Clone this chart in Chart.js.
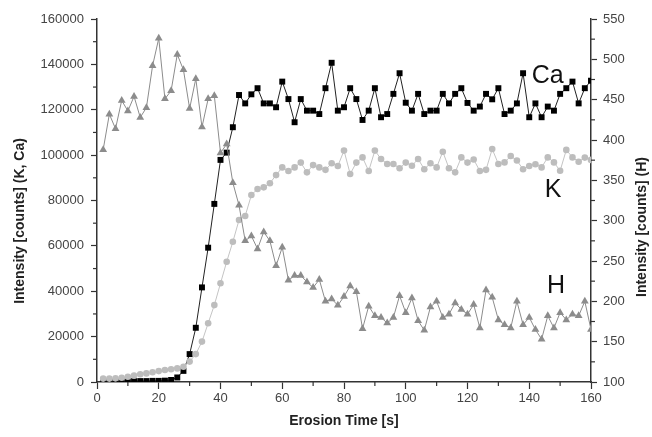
<!DOCTYPE html>
<html lang="en">
<head>
  <meta charset="UTF-8" />
  <title>Erosion Time Profile</title>
  <script src="https://cdn.jsdelivr.net/npm/chart.js"></script>
  <style>
    body { margin: 0; background: #fff; }
    canvas { display: block; }
  </style>
</head>
<body>
  <canvas id="chart" width="652" height="437"></canvas>
  <script>
    // Erosion time [s]
    const times = [2, 4, 6, 8, 10, 12, 14, 16, 18, 20, 22, 24, 26, 28, 30, 32, 34, 36, 38, 40,
      42, 44, 46, 48, 50, 52, 54, 56, 58, 60, 62, 64, 66, 68, 70, 72, 74, 76, 78, 80,
      82, 84, 86, 88, 90, 92, 94, 96, 98, 100, 102, 104, 106, 108, 110, 112, 114, 116, 118, 120,
      122, 124, 126, 128, 130, 132, 134, 136, 138, 140, 142, 144, 146, 148, 150, 152, 154, 156, 158, 160];

    // Ca counts (left axis)
    const caValues = [300, 300, 300, 300, 400, 400, 400, 400, 500, 500, 600, 900, 2000, 4900, 12300, 23900, 41700, 59200, 78500, 97900,
      101100, 112300, 126500, 122800, 126800, 129500, 122800, 122800, 121100, 132400, 124700, 114500, 124700, 119600, 119600, 118100, 129500, 140700, 119600, 121100,
      129500, 124700, 115500, 119600, 129500, 116700, 118100, 127000, 136100, 123100, 119600, 127000, 118100, 119600, 119600, 127000, 122800, 127000, 129500, 123000,
      119600, 121400, 127000, 124600, 129500, 118100, 119600, 122800, 136100, 116700, 122800, 116700, 121400, 119600, 127000, 129500, 132400, 122800, 129500, 132800];

    // K counts (left axis)
    const kValues = [1500, 1500, 1600, 1900, 2300, 2800, 3400, 3800, 4300, 4800, 5300, 5600, 6000, 6700, 9000, 12300, 17800, 25900, 33900, 43500,
      53000, 61800, 71400, 73200, 82400, 85100, 85800, 87600, 91200, 94600, 93000, 94600, 96700, 92400, 95600, 94600, 93500, 96400, 95200, 102000,
      91700, 96700, 99000, 93000, 102000, 98300, 96100, 96100, 94200, 96700, 95300, 98300, 93800, 96400, 94600, 101500, 94200, 92400, 99000, 96700,
      98100, 93000, 93500, 102700, 96100, 96800, 99600, 97600, 93800, 95200, 96000, 94600, 99000, 96800, 93100, 102300, 99000, 97100, 98900, 97900];

    // H counts (right axis)
    const hValues = [388, 432, 414, 449, 436, 454, 428, 440, 492, 526, 451, 461, 506, 487, 439, 476, 416, 451, 455, 384,
      395, 347, 319, 275, 281, 265, 286, 275, 244, 267, 226, 232, 232, 224, 217, 227, 200, 203, 195, 206,
      219, 212, 166, 194, 182, 180, 173, 180, 207, 186, 204, 176, 164, 193, 200, 180, 184, 198, 190, 184,
      196, 167, 214, 205, 177, 171, 167, 200, 171, 180, 165, 153, 182, 167, 186, 177, 184, 182, 200, 165];

    // series labels: [text, time, value, axis]
    const seriesLabels = [
      ['Ca', 146, 134900, 'y'],
      ['K', 147.7, 84600, 'y'],
      ['H', 148.7, 219, 'y2']
    ];

    const FONT = "'Liberation Sans', Arial, sans-serif";
    const pts = vals => times.map((t, i) => ({ x: t, y: vals[i] }));

    // minor ticks + titles + labels
    const decor = {
      id: 'decor',
      afterDraw(chart) {
        const { ctx, chartArea, scales } = chart;
        ctx.save();
        ctx.strokeStyle = '#333';
        ctx.lineWidth = 1.2;
        const minor = (scale, from, to, step, draw) => {
          for (let v = from; v <= to; v += step) draw(scale.getPixelForValue(v));
        };
        minor(scales.x, 10, 150, 20, px => {
          ctx.beginPath(); ctx.moveTo(px, chartArea.bottom); ctx.lineTo(px, chartArea.bottom + 4); ctx.stroke();
        });
        minor(scales.y, 10000, 150000, 20000, py => {
          ctx.beginPath(); ctx.moveTo(chartArea.left, py); ctx.lineTo(chartArea.left - 4, py); ctx.stroke();
        });
        minor(scales.y2, 125, 525, 50, py => {
          ctx.beginPath(); ctx.moveTo(chartArea.right, py); ctx.lineTo(chartArea.right + 4, py); ctx.stroke();
        });

        // axis titles
        ctx.fillStyle = '#222';
        ctx.font = 'bold 14px ' + FONT;
        ctx.textAlign = 'center';
        ctx.textBaseline = 'middle';
        ctx.fillText('Erosion Time [s]', (chartArea.left + chartArea.right) / 2, 421);
        ctx.save();
        ctx.translate(20, 221);
        ctx.rotate(-Math.PI / 2);
        ctx.fillText('Intensity [counts] (K, Ca)', 0, 0);
        ctx.restore();
        ctx.save();
        ctx.translate(642, 227);
        ctx.rotate(-Math.PI / 2);
        ctx.fillText('Intensity [counts] (H)', 0, 0);
        ctx.restore();

        // series labels
        ctx.fillStyle = '#111';
        ctx.font = '25px ' + FONT;
        seriesLabels.forEach(([txt, t, v, ax]) => {
          ctx.fillText(txt, scales.x.getPixelForValue(t), scales[ax].getPixelForValue(v));
        });
        ctx.restore();
      }
    };

    const tickFont = { family: FONT, size: 13 };
    const gridOpts = { drawOnChartArea: false, tickLength: 6, color: '#333', tickWidth: 1.2 };
    const borderOpts = { color: '#333', width: 1.5 };

    new Chart(document.getElementById('chart'), {
      type: 'line',
      data: {
        datasets: [
          {
            label: 'H', data: pts(hValues), yAxisID: 'y2',
            borderColor: '#8c8c8c', borderWidth: 1,
            pointStyle: 'triangle', pointRadius: 4.5,
            pointBackgroundColor: '#8c8c8c', pointBorderColor: '#8c8c8c', pointBorderWidth: 0
          },
          {
            label: 'K', data: pts(kValues), yAxisID: 'y',
            borderColor: '#c4c4c4', borderWidth: 1,
            pointStyle: 'circle', pointRadius: 3.3,
            pointBackgroundColor: '#bdbdbd', pointBorderColor: '#bdbdbd', pointBorderWidth: 0
          },
          {
            label: 'Ca', data: pts(caValues), yAxisID: 'y',
            borderColor: '#222', borderWidth: 1,
            pointStyle: 'rect', pointRadius: 4.2,
            pointBackgroundColor: '#000', pointBorderColor: '#000', pointBorderWidth: 0
          }
        ]
      },
      options: {
        responsive: false,
        animation: false,
        devicePixelRatio: 1,
        layout: { padding: { top: 19, left: 0, right: 0, bottom: 0 } },
        plugins: { legend: { display: false }, tooltip: { enabled: false } },
        scales: {
          x: {
            type: 'linear', position: 'bottom', min: 0, max: 160,
            ticks: { stepSize: 20, font: tickFont, color: '#444', padding: 2, maxRotation: 0 },
            grid: { ...gridOpts, tickLength: 7 }, border: borderOpts,
            afterFit(s) { s.height = 55; }
          },
          y: {
            position: 'left', min: 0, max: 160000,
            ticks: { stepSize: 20000, font: tickFont, color: '#444', padding: 7, callback: v => String(v) },
            grid: gridOpts, border: borderOpts,
            afterFit(s) { s.width = 97; }
          },
          y2: {
            position: 'right', min: 100, max: 550,
            ticks: { stepSize: 50, font: tickFont, color: '#444', padding: 6 },
            grid: gridOpts, border: borderOpts,
            afterFit(s) { s.width = 61; }
          }
        }
      },
      plugins: [decor]
    });
  </script>
</body>
</html>
